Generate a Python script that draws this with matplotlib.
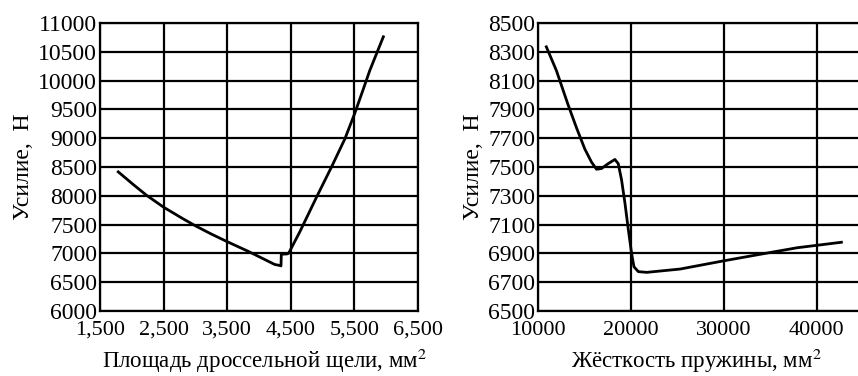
import matplotlib.pyplot as plt
import numpy as np

plt.rcParams['font.family'] = ['Liberation Serif', 'DejaVu Serif']
plt.rcParams['mathtext.fontset'] = 'stix'

# left chart: force vs throttle gap area
x1 = [1786, 2021, 2229, 2500, 2802, 3010, 3250, 3495, 3832, 4091, 4246, 4324, 4345,
      4348, 4350, 4440, 4465, 4641, 4915, 5140, 5348, 5500, 5626, 5740, 5860, 5955]
y1 = [8415, 8196, 8010, 7801, 7602, 7472, 7335, 7205, 7034, 6892, 6807, 6790, 6782,
      6880, 6985, 6990, 7000, 7373, 8000, 8500, 8983, 9415, 9808, 10170, 10500, 10760]
xticks1 = [1500, 2500, 3500, 4500, 5500, 6500]
xlabels1 = ['1,500', '2,500', '3,500', '4,500', '5,500', '6,500']
yticks1 = [6000, 6500, 7000, 7500, 8000, 8500, 9000, 9500, 10000, 10500, 11000]

# right chart: force vs spring stiffness
x2 = [10900, 11980, 13240, 14140, 15040, 15760, 16300, 16840, 17560, 18280, 18640, 19000,
      19360, 19720, 20080, 20330, 20800, 21700, 25300, 29990, 34310, 37910, 42660]
y2 = [8334, 8170, 7932, 7773, 7625, 7534, 7484, 7489, 7523, 7552, 7523, 7409,
      7250, 7068, 6898, 6807, 6773, 6768, 6791, 6848, 6898, 6939, 6977]
xticks2 = [10000, 20000, 30000, 40000]
yticks2 = [6500, 6700, 6900, 7100, 7300, 7500, 7700, 7900, 8100, 8300, 8500]

fig = plt.figure(figsize=(8.58, 3.76), dpi=100)

# axes bottom at 311 px, top at 23 px
ax1 = fig.add_axes([0.1166, 0.173, 0.3706, 0.766])
ax2 = fig.add_axes([0.627, 0.173, 0.379, 0.766])

for ax in (ax1, ax2):
    ax.grid(True, color='black', linewidth=1.6)
    ax.set_axisbelow(True)
    for s in ax.spines.values():
        s.set_linewidth(1.6)
    ax.tick_params(length=0)
    ax.tick_params(axis='x', pad=7, labelsize=16)
    ax.tick_params(axis='y', pad=2, labelsize=17)
    ax.set_ylabel('Усилие,  Н', fontsize=17, labelpad=3)

ax1.plot(x1, y1, color='black', linewidth=2)
ax1.set_xlim(1500, 6500)
ax1.set_ylim(6000, 11000)
ax1.set_xticks(xticks1)
ax1.set_xticklabels(xlabels1)
ax1.set_yticks(yticks1)
ax1.set_xlabel('Площадь дроссельной щели, мм$^2$', fontsize=16.5, va='bottom')

ax2.plot(x2, y2, color='black', linewidth=2)
ax2.set_xlim(10000, 45000)
ax2.set_ylim(6500, 8500)
ax2.set_xticks(xticks2)
ax2.set_yticks(yticks2)
ax2.set_xlabel('Жёсткость пружины, мм$^2$', fontsize=16.5, va='bottom')

# put x labels right at the bottom edge of the figure
lab_y = (311 - 375.5) / (0.766 * 376)
ax1.xaxis.set_label_coords(0.517, lab_y)
ax2.xaxis.set_label_coords(0.488, lab_y)

fig.savefig('out.png', dpi=100)
